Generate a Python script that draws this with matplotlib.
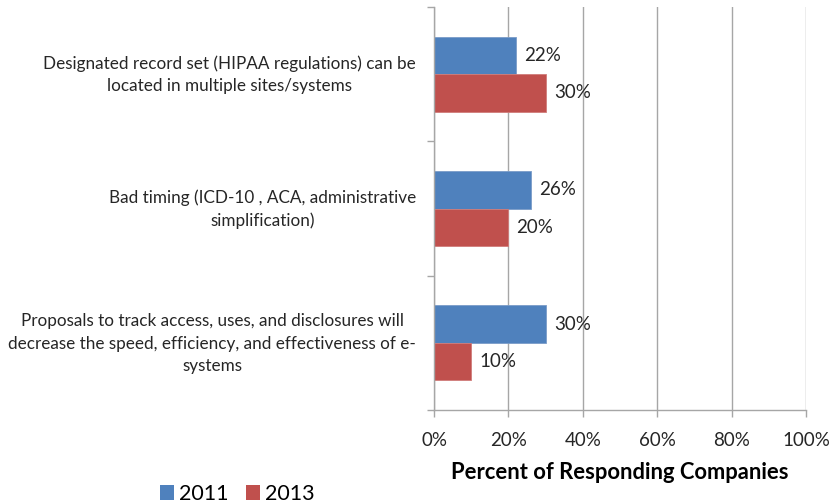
import matplotlib
matplotlib.use("Agg")
import matplotlib.pyplot as plt
from matplotlib.patches import Patch
from matplotlib.transforms import ScaledTranslation
import numpy as np

categories = [
    "Designated record set (HIPAA regulations) can be\nlocated in multiple sites/systems",
    "Bad timing (ICD-10 , ACA, administrative\nsimplification)",
    "Proposals to track access, uses, and disclosures will\ndecrease the speed, efficiency, and effectiveness of e-\nsystems",
]
series_names = ["2011", "2013"]
values_2011 = [22, 26, 30]
values_2013 = [30, 20, 10]
x_ticks = [0, 20, 40, 60, 80, 100]
x_tick_labels = ["0%", "20%", "40%", "60%", "80%", "100%"]
x_label = "Percent of Responding Companies"

plt.rcParams["font.family"] = ["Lato", "DejaVu Sans"]

BLUE = "#4F81BD"
RED = "#C0504D"
GRID = "#A6A6A6"
TEXT = "#262626"

fig = plt.figure(figsize=(8.3, 5.04), dpi=100)
ax = fig.add_axes([434 / 830, 1 - 410 / 504, (806 - 434) / 830, (410 - 7) / 504])

y = np.arange(len(categories))
h = 0.28
b1 = ax.barh(y - h / 2, values_2011, height=h, color=BLUE, edgecolor="#7A9CC8", linewidth=0.6)
b2 = ax.barh(y + h / 2, values_2013, height=h, color=RED, edgecolor="#D07C7A", linewidth=0.6)

for bars, vals in ((b1, values_2011), (b2, values_2013)):
    for bar, v in zip(bars, vals):
        ax.text(v + 2.2, bar.get_y() + bar.get_height() / 2, f"{v}%",
                va="center", ha="left", fontsize=13.5, color=TEXT)

ax.set_xlim(0, 100)
ax.set_ylim(len(categories) - 0.5, -0.5)

ax.set_xticks(x_ticks)
ax.set_xticklabels(x_tick_labels, fontsize=13.5, color=TEXT)
ax.tick_params(axis="x", length=5, width=1, color=GRID, pad=11)

ax.set_yticks(y)
ax.set_yticklabels(categories, fontsize=12.3, color=TEXT, multialignment="center", linespacing=1.5)
ax.tick_params(axis="y", which="major", length=0, pad=13)
# nudge the category labels up a little so each block sits on its group centre
lift = ScaledTranslation(0, 4 / 100, fig.dpi_scale_trans)
for lbl in ax.get_yticklabels():
    lbl.set_transform(lbl.get_transform() + lift)
ax.set_yticks(np.arange(-0.5, len(categories), 1.0), minor=True)
ax.tick_params(axis="y", which="minor", length=5, width=1, color=GRID)

ax.grid(axis="x", color=GRID, linewidth=1)
ax.set_axisbelow(True)
for s in ("top", "right"):
    ax.spines[s].set_visible(False)
for s in ("left", "bottom"):
    ax.spines[s].set_color(GRID)
    ax.spines[s].set_linewidth(1)

ax.set_xlabel(x_label, fontsize=15.8, fontweight="bold", color="black", labelpad=9)

handles = [Patch(facecolor=BLUE), Patch(facecolor=RED)]
fig.legend(handles, series_names, loc="lower left", bbox_to_anchor=(143 / 830, -0.034),
           ncol=2, frameon=False, fontsize=15.5, handlelength=0.65, handleheight=0.65,
           handletextpad=0.2, columnspacing=0.85, borderpad=0.3)

fig.savefig("out.png", dpi=100)
